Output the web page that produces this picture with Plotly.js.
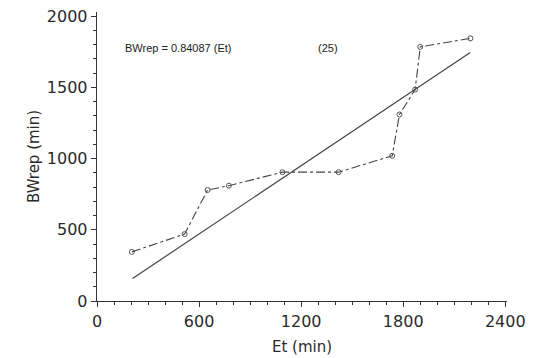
<!DOCTYPE html>
<html>
<head>
<meta charset="utf-8">
<script src="https://cdn.plot.ly/plotly-3.0.1.min.js"></script>
<style>html,body{margin:0;padding:0;background:#fff;}#chart{width:550px;height:358px;}</style>
</head>
<body>
<div id="chart"></div>
<script>
// Observed points
const etValues = [205, 515, 650, 775, 1090, 1420, 1735, 1778, 1870, 1900, 2195];
const bwrepValues = [345, 470, 780, 810, 905, 905, 1020, 1310, 1485, 1785, 1845];
// Regression line endpoints (as drawn)
const fitEt = [209, 2194];
const fitBwrep = [158, 1746];
const equationText = "BWrep = 0.84087 (Et)";
const nText = "(25)";
const xTicks = [0, 600, 1200, 1800, 2400];
const yTicks = [0, 500, 1000, 1500, 2000];

const ink = '#333333';
const font = 'DejaVu Sans, sans-serif';
const traces = [
  {
    x: fitEt, y: fitBwrep, mode: 'lines', type: 'scatter',
    line: {color: '#444444', width: 1.2}, hoverinfo: 'skip'
  },
  {
    x: etValues, y: bwrepValues, mode: 'lines+markers', type: 'scatter',
    line: {color: '#444444', width: 1.1, dash: 'dashdot'},
    marker: {symbol: 'circle-open', size: 5, color: '#555555', line: {width: 1}}
  }
];

const axisCommon = {
  showline: true, linecolor: ink, linewidth: 1.3,
  ticks: 'outside', ticklen: 5, tickcolor: ink, tickwidth: 1,
  showgrid: false, zeroline: false,
  tickfont: {family: font, size: 16, color: '#2a2a2a'},
  minor: {dtick: 100, ticks: 'outside', ticklen: 3, tickcolor: ink, tickwidth: 1}
};

const layout = {
  width: 550, height: 358,
  margin: {l: 97, r: 43, t: 12, b: 57},
  paper_bgcolor: '#fff', plot_bgcolor: '#fff',
  showlegend: false,
  xaxis: Object.assign({}, axisCommon, {
    range: [0, 2410], tickvals: xTicks, ticktext: xTicks.map(String),
    title: {text: 'Et (min)', font: {family: font, size: 15, color: '#2a2a2a'}, standoff: 12}
  }),
  yaxis: Object.assign({}, axisCommon, {
    range: [0, 2030], tickvals: yTicks, ticktext: yTicks.map(String),
    title: {text: 'BWrep (min)', font: {family: font, size: 15, color: '#2a2a2a'}, standoff: 3}
  }),
  annotations: [
    {x: 150, y: 1775, xref: 'x', yref: 'y', text: equationText, showarrow: false, xanchor: 'left', yanchor: 'middle',
     font: {family: 'Liberation Sans, Arial, sans-serif', size: 11, color: '#222'}},
    {x: 1290, y: 1775, xref: 'x', yref: 'y', text: nText, showarrow: false, xanchor: 'left', yanchor: 'middle',
     font: {family: 'Liberation Sans, Arial, sans-serif', size: 11, color: '#222'}}
  ]
};

Plotly.newPlot('chart', traces, layout, {displayModeBar: false, staticPlot: true});
</script>
</body>
</html>
